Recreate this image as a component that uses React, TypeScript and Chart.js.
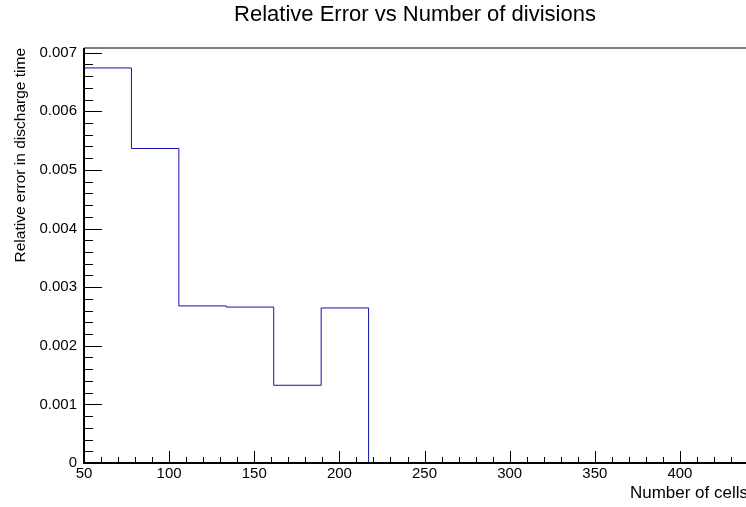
import React, { useEffect, useRef } from "react";
import { Chart, registerables } from "chart.js";

Chart.register(...registerables);

// Histogram bin edges (Number of cells) and bin contents (relative error)
const binEdges = [50, 77.86, 105.71, 133.57, 161.43, 189.29, 217.14, 245, 272.86, 300.71, 328.57, 356.43, 384.29, 412.14, 440];
const binValues = [0.00674, 0.005365, 0.00268, 0.00266, 0.001326, 0.002645, 0, 0, 0, 0, 0, 0, 0, 0];

const titleText = "Relative Error vs Number of divisions";
const xTitle = "Number of cells";
const yTitle = "Relative error in discharge time";

const X_MIN = 50;
const X_MAX = 438.8;
const Y_MIN = 0;
const Y_MAX = 0.00708;

const FONT = '"Liberation Sans", Arial, Helvetica, sans-serif';

export default function App() {
  const ref = useRef<HTMLCanvasElement | null>(null);

  useEffect(() => {
    document.body.style.margin = "0";
    const canvas = ref.current;
    if (!canvas) return;

    const points = binValues.map((v, i) => ({ x: binEdges[i], y: v }));
    points.push({ x: binEdges[binEdges.length - 1], y: 0 });

    const decorations = {
      id: "rootDecor",
      afterDraw(chart: any) {
        const ctx = chart.ctx;
        const area = chart.chartArea;
        const xs = chart.scales.x;
        const ys = chart.scales.y;
        ctx.save();
        ctx.strokeStyle = "#000";
        // top frame
        ctx.lineWidth = 1;
        ctx.beginPath();
        ctx.moveTo(area.left, 48);
        ctx.lineTo(area.right, 48);
        ctx.stroke();
        // axes
        ctx.lineWidth = 2;
        ctx.beginPath();
        ctx.moveTo(area.left, area.top);
        ctx.lineTo(area.left, area.bottom);
        ctx.lineTo(area.right, area.bottom);
        ctx.stroke();
        // x ticks
        ctx.lineWidth = 1;
        ctx.beginPath();
        for (let v = 50; v <= 450; v += 10) {
          const px = xs.getPixelForValue(v);
          if (px > area.right + 1) break;
          const len = v % 50 === 0 ? 12 : 6;
          const p = Math.round(px) + 0.5;
          ctx.moveTo(p, area.bottom);
          ctx.lineTo(p, area.bottom - len);
        }
        // y ticks
        for (let k = 0; k <= 35; k++) {
          const v = k * 0.0002;
          if (v > Y_MAX) break;
          const py = ys.getPixelForValue(v);
          const len = k % 5 === 0 ? 18 : 9;
          const p = Math.round(py) + 0.5;
          ctx.moveTo(area.left, p);
          ctx.lineTo(area.left + len, p);
        }
        ctx.stroke();

        ctx.fillStyle = "#000";
        // title
        ctx.font = `22px ${FONT}`;
        ctx.textAlign = "center";
        ctx.textBaseline = "alphabetic";
        ctx.fillText(titleText, 415, 21);
        // x title
        ctx.font = `17px ${FONT}`;
        ctx.textAlign = "right";
        ctx.fillText(xTitle, 748, 498);
        // y title
        ctx.save();
        ctx.translate(25, 48);
        ctx.rotate(-Math.PI / 2);
        ctx.font = `15.5px ${FONT}`;
        ctx.textAlign = "right";
        ctx.fillText(yTitle, 0, 0);
        ctx.restore();
        ctx.restore();
      },
    };

    const chart = new Chart(canvas, {
      type: "line",
      data: {
        datasets: [
          {
            data: points,
            stepped: "before",
            borderColor: "rgb(20,20,170)",
            borderWidth: 1,
            pointRadius: 0,
            fill: false,
            clip: 4,
          } as any,
        ],
      },
      options: {
        responsive: false,
        animation: false,
        devicePixelRatio: 1,
        layout: { padding: { left: 0, right: 0, top: 48, bottom: 0 } },
        plugins: { legend: { display: false }, title: { display: false }, tooltip: { enabled: false } },
        scales: {
          x: {
            type: "linear",
            min: X_MIN,
            max: X_MAX,
            afterFit: (s: any) => {
              s.height = 44;
            },
            grid: { display: false, drawTicks: false },
            border: { display: false },
            ticks: {
              stepSize: 50,
              includeBounds: false,
              padding: 2,
              maxRotation: 0,
              autoSkip: false,
              color: "#000",
              font: { family: FONT, size: 15 },
              callback: (v: any) => String(v),
            },
          },
          y: {
            type: "linear",
            min: Y_MIN,
            max: Y_MAX,
            afterFit: (s: any) => {
              s.width = 84;
            },
            grid: { display: false, drawTicks: false },
            border: { display: false },
            ticks: {
              stepSize: 0.001,
              includeBounds: false,
              padding: 7,
              autoSkip: false,
              color: "#000",
              font: { family: FONT, size: 15 },
              callback: (v: any) => (Math.abs(v) < 1e-12 ? "0" : Number(v).toFixed(3)),
            },
          },
        },
      },
      plugins: [decorations],
    });

    return () => chart.destroy();
  }, []);

  return (
    <div style={{ width: 746, height: 507, background: "#fff" }}>
      <canvas ref={ref} width={746} height={507} style={{ display: "block" }} />
    </div>
  );
}
